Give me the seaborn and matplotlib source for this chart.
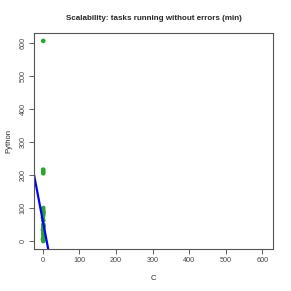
import matplotlib
matplotlib.use("Agg")
import matplotlib.pyplot as plt
import seaborn as sns
import pandas as pd

# minutes until the task stopped running without errors
c_minutes = [1, 1, 1, 1, 1, 0, 1, 2, 1, 0, 1, 1, 2, 1, 0, 1, 1, 2, 1, 0, 1, 1]
python_minutes = [605, 216, 210, 205, 100, 96, 92, 86, 78, 70, 62, 50, 45, 40, 34, 28, 22, 16, 10, 5, 2, 0]

# lm(Python ~ C) coefficients
intercept = 60.0
slope = -5.8

x_ticks = [0, 100, 200, 300, 400, 500, 600]
y_ticks = [0, 100, 200, 300, 400, 500, 600]

df = pd.DataFrame({"C": c_minutes, "Python": python_minutes})

sns.set_style("white")
plt.rcParams['font.family'] = ['Liberation Sans', 'DejaVu Sans']

fig = plt.figure(figsize=(2.91, 2.91), dpi=100)
ax = fig.add_axes([0.117, 0.144, 0.821, 0.743])

sns.scatterplot(data=df, x="C", y="Python", ax=ax, color="#2ca42c",
                s=11, linewidth=0, edgecolor="none")
ax.axline((0, intercept), slope=slope, color="#0000ff", lw=1.6)

ax.set_xlim(-24.2, 629.2)
ax.set_ylim(-24.2, 629.2)
ax.set_xticks(x_ticks)
ax.set_yticks(y_ticks)
ax.tick_params(axis="both", direction="out", length=3.5, width=0.6,
               labelsize=5.2, colors="#444444", pad=2, bottom=True, left=True)
for lab in ax.get_yticklabels():
    lab.set_rotation(90)
    lab.set_va("center")
for sp in ax.spines.values():
    sp.set_color("#555555")
    sp.set_linewidth(0.8)

ax.set_xlabel("C", fontsize=5.5, labelpad=8)
ax.set_ylabel("Python", fontsize=5.5, labelpad=5)
ax.set_title("Scalability: tasks running without errors (min)",
             fontsize=5.8, fontweight="bold", pad=9)

fig.savefig("out.png", dpi=100)
